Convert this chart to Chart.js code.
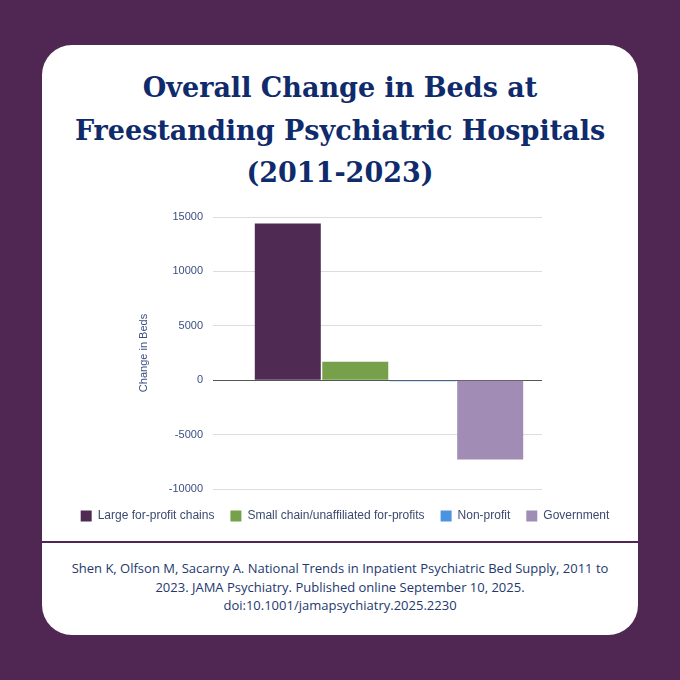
<!DOCTYPE html>
<html lang="en">
<head>
  <meta charset="UTF-8">
  <title>Overall Change in Beds</title>
  <style>
    body {
      margin: 0;
      width: 680px;
      height: 680px;
      background-color: #4f2752;
      overflow: hidden;
      font-family: 'Liberation Sans', Arial, sans-serif;
    }

    .card {
      position: absolute;
      left: 42px;
      top: 45px;
      width: 596px;
      height: 590px;
      background: #fff;
      border-radius: 30px;
    }

    h1 {
      margin: 0;
      position: absolute;
      left: 0;
      right: 0;
      top: 22px;
      text-align: center;
      font-family: 'DejaVu Serif', serif;
      font-weight: bold;
      font-size: 27px;
      line-height: 42.5px;
      color: #0f2b6b;
    }

    .chart-box {
      position: absolute;
      left: 18px;
      top: 151px;
      width: 570px;
      height: 340px;
    }

    .rule {
      position: absolute;
      left: 0;
      right: 0;
      top: 496px;
      height: 2px;
      background: #4f2752;
    }

    .cite {
      position: absolute;
      left: 0;
      right: 0;
      top: 514px;
      text-align: center;
      font-family: 'Open Sans', sans-serif;
      font-size: 13px;
      line-height: 18.5px;
      color: #23386e;
    }
  </style>
  <script src="https://cdn.jsdelivr.net/npm/chart.js"></script>
</head>
<body>

  <div class="card">
    <h1>Overall Change in Beds at<br>Freestanding Psychiatric Hospitals<br>(2011-2023)</h1>

    <div class="chart-box">
      <canvas id="myChart" width="570" height="340"></canvas>
    </div>

    <div class="rule"></div>

    <div class="cite">
      Shen K, Olfson M, Sacarny A. National Trends in Inpatient Psychiatric Bed Supply, 2011 to<br>
      2023. JAMA Psychiatry. Published online September 10, 2025.<br>
      doi:10.1001/jamapsychiatry.2025.2230
    </div>
  </div>

  <script>
    // chart data
    const categories = ['2011-2023'];
    const seriesNames = ['Large for-profit chains', 'Small chain/unaffiliated for-profits', 'Non-profit', 'Government'];
    const seriesValues = [14400, 1700, -100, -7300];
    const seriesColors = ['#4f2a52', '#76a14a', '#4a93e0', '#a08cb4'];
    const yTicks = [15000, 10000, 5000, 0, -5000, -10000];

    const datasets = seriesNames.map((name, i) => ({
      label: name,
      data: [seriesValues[i]],
      backgroundColor: seriesColors[i],
      borderWidth: 0,
      categoryPercentage: 0.882,
      barPercentage: 0.978
    }));

    const ctx = document.getElementById('myChart').getContext('2d');

    new Chart(ctx, {
      type: 'bar',
      data: {
        labels: categories,
        datasets: datasets
      },
      options: {
        responsive: false,
        animation: false,
        layout: {
          padding: { top: 21, bottom: 4 }
        },
        plugins: {
          tooltip: { enabled: false },
          legend: {
            position: 'bottom',
            labels: {
              boxWidth: 11,
              boxHeight: 11,
              padding: 16,
              color: '#3b4a6e',
              font: { family: 'Liberation Sans', size: 12 }
            }
          }
        },
        scales: {
          x: {
            display: true,
            afterFit: s => { s.height = 5; },
            border: { display: false },
            grid: { display: false },
            ticks: { display: false }
          },
          y: {
            min: -10000,
            max: 15000,
            afterFit: s => { s.width = 176; },
            afterBuildTicks: s => { s.ticks = yTicks.map(v => ({ value: v })); },
            border: { display: false },
            grid: {
              drawTicks: true,
              tickLength: 23,
              lineWidth: 1,
              color: c => c.tick && c.tick.value === 0 ? '#555555' : '#dddddd'
            },
            ticks: {
              padding: 10,
              color: '#3b4f80',
              font: { family: 'Liberation Sans', size: 11 },
              callback: v => String(v)
            },
            title: {
              display: true,
              text: 'Change in Beds',
              color: '#3b4f80',
              padding: { top: 77, bottom: 0 },
              font: { family: 'Liberation Sans', size: 11 }
            }
          },
          y2: {
            position: 'right',
            display: true,
            afterFit: s => { s.width = 88; },
            border: { display: false },
            grid: { display: false },
            ticks: { display: false }
          }
        }
      }
    });
  </script>

</body>
</html>
